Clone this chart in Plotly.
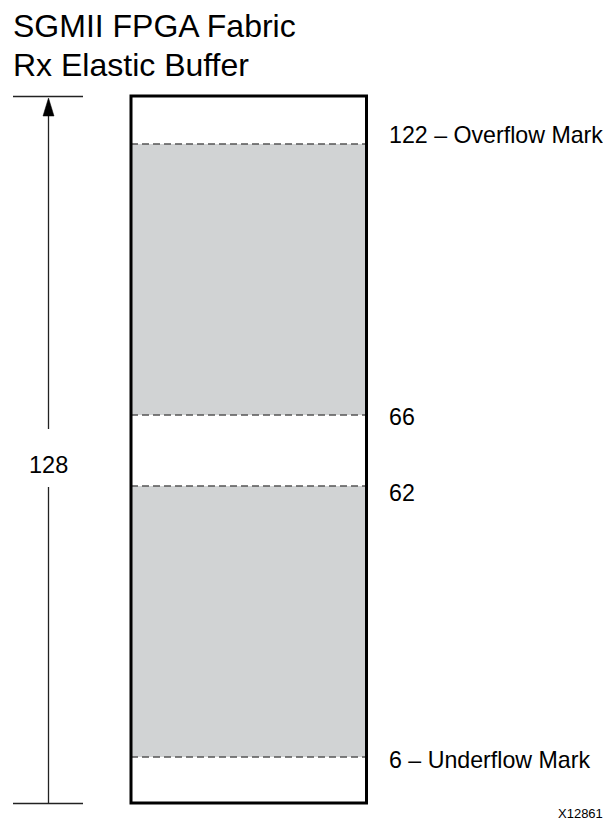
import numpy as np
import plotly.graph_objects as go

title_lines = ["SGMII FPGA Fabric", "Rx Elastic Buffer"]
buffer_depth = 128
mark_values = [122, 66, 62, 6]
mark_labels = ["122 – Overflow Mark", "66", "62", "6 – Underflow Mark"]
filled_bands = [(66, 122), (6, 62)]
figure_id = "X12861"

# the drawing is a schematic, not to scale: buffer level -> pixel row
level_stops = [0, 6, 62, 66, 122, 128]
level_rows = [803.5, 757, 486, 415, 144, 96.5]


def row(v):
    return float(np.interp(v, level_stops, level_rows))


FONT = "Liberation Sans, Arial, Helvetica, sans-serif"
PAGE_MARGIN = 8  # default body margin of the html page
BOX_X0, BOX_X1 = 131, 366.5
DIM_X = 48.5
LABEL_X = 387
LABEL_SHIFT = [9, -2, -7, -3]

fig = go.Figure()
shapes = []

# shaded (occupied) bands
for lo, hi in filled_bands:
    shapes.append(dict(type="rect", xref="x", yref="y", x0=BOX_X0, x1=BOX_X1,
                       y0=row(lo), y1=row(hi), fillcolor="#d1d3d4",
                       line=dict(width=0), layer="below"))

# dashed threshold marks
for v in mark_values:
    shapes.append(dict(type="line", xref="x", yref="y", x0=BOX_X0, x1=BOX_X1,
                       y0=row(v), y1=row(v),
                       line=dict(color="#555555", width=1.4, dash="7px,4px")))

# buffer outline
shapes.append(dict(type="rect", xref="x", yref="y", x0=BOX_X0, x1=BOX_X1,
                   y0=row(0) - 0.5, y1=row(buffer_depth) - 0.5,
                   line=dict(color="black", width=3)))

# depth dimension: end ticks, shaft with a gap for the label, arrowhead
for v in (0, buffer_depth):
    shapes.append(dict(type="line", xref="x", yref="y", x0=13, x1=83,
                       y0=row(v), y1=row(v),
                       line=dict(color="#222222", width=1.5)))

mid = (row(0) + row(buffer_depth)) / 2 + 15
shapes.append(dict(type="line", xref="x", yref="y", x0=DIM_X, x1=DIM_X,
                   y0=row(buffer_depth) + 18, y1=mid - 36,
                   line=dict(color="#222222", width=1.3)))
shapes.append(dict(type="line", xref="x", yref="y", x0=DIM_X, x1=DIM_X,
                   y0=mid + 22, y1=row(0),
                   line=dict(color="#222222", width=1.3)))
tip = row(buffer_depth) + 1.5
shapes.append(dict(type="path", xref="x", yref="y",
                   path=f"M {DIM_X},{tip} L {DIM_X - 5.5},{tip + 18} L {DIM_X + 5.5},{tip + 18} Z",
                   fillcolor="black", line=dict(color="black", width=0.5)))

annotations = []
for v, lab, sh in zip(mark_values, mark_labels, LABEL_SHIFT):
    annotations.append(dict(x=LABEL_X, y=row(v), xref="x", yref="y", text=lab,
                            showarrow=False, xanchor="left", yanchor="middle",
                            yshift=sh, font=dict(family=FONT, size=23.2, color="black")))

annotations.append(dict(x=DIM_X, y=mid, xref="x", yref="y", text=str(buffer_depth),
                        showarrow=False, xanchor="center", yanchor="middle",
                        font=dict(family=FONT, size=23.5, color="black")))

for i, t in enumerate(title_lines):
    annotations.append(dict(x=11, y=26 + 39 * i, xref="x", yref="y", text=t,
                            showarrow=False, xanchor="left", yanchor="middle",
                            font=dict(family=FONT, size=32, color="black")))

annotations.append(dict(x=605, y=813, xref="x", yref="y", text=figure_id,
                        showarrow=False, xanchor="right", yanchor="middle",
                        font=dict(family=FONT, size=13, color="black")))

fig.update_layout(
    width=611 - PAGE_MARGIN, height=821 - PAGE_MARGIN,
    margin=dict(l=0, r=0, t=0, b=0),
    paper_bgcolor="white", plot_bgcolor="white",
    showlegend=False,
    shapes=shapes, annotations=annotations,
    xaxis=dict(range=[PAGE_MARGIN, 611], visible=False, fixedrange=True),
    yaxis=dict(range=[821, PAGE_MARGIN], visible=False, fixedrange=True),
)

fig.write_html("out.html")
